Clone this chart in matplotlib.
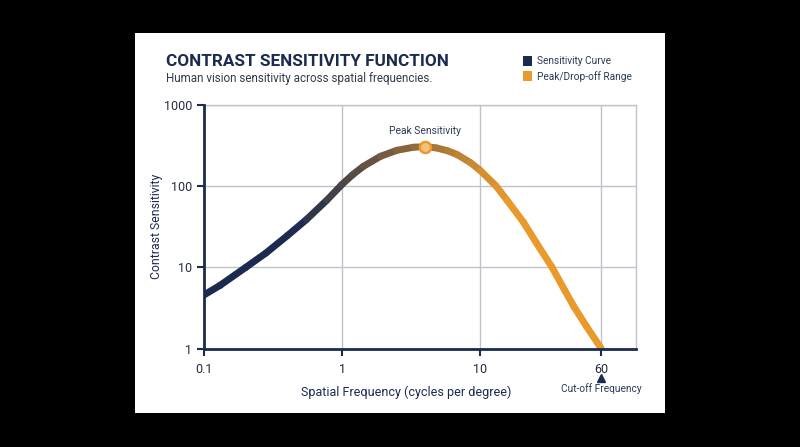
import numpy as np
import matplotlib
matplotlib.use("Agg")
import matplotlib.pyplot as plt
from matplotlib.collections import LineCollection
from matplotlib.patches import Rectangle
from matplotlib.ticker import NullLocator, FixedLocator, FixedFormatter
from matplotlib.colors import to_rgb

plt.rcParams['font.family'] = ['Roboto', 'DejaVu Sans']

# --- data
freq = [0.1, 0.13, 0.2, 0.28, 0.4, 0.55, 0.775, 1.0, 1.2, 1.43, 1.9, 2.5, 3.3, 4.0,
        4.84, 5.8, 6.8, 8.5, 10, 12.7, 15, 19, 23, 29, 35, 40, 48, 60]
sens = [4.6, 6.0, 10, 15, 24.5, 38.6, 67, 105, 139, 175, 232, 275, 300, 305,
        294, 272, 245, 195, 157, 100, 66, 36, 20, 10, 5.2, 3.3, 1.9, 1.0]
peak_freq = 4.0
peak_sens = 305
cutoff_freq = 60
x_ticks = [0.1, 1, 10, 60]
x_tick_labels = ['0.1', '1', '10', '60']
y_ticks = [1, 10, 100, 1000]
y_tick_labels = ['1', '10', '100', '1000']

NAVY = '#1b2b4f'
ORANGE = '#e99a2c'
GRID = '#bfc3cb'
W, H = 800, 447


def fp(x, y):
    # pixel -> figure fraction
    return x / W, 1 - y / H


# the reference stretches the decade above 10 a bit
K = 1.133


def fwd(x):
    l = np.log10(np.clip(x, 1e-12, None))
    return np.where(l > 1, 1 + (l - 1) * K, l)


def inv(y):
    y = np.asarray(y, dtype=float)
    return np.where(y > 1, 10 ** (1 + (y - 1) / K), 10 ** y)


fig = plt.figure(figsize=(8, 4.47), dpi=100)
fig.patch.set_facecolor('black')
fig.patches.append(Rectangle(fp(135, 413), 530 / W, 380 / H, transform=fig.transFigure,
                             facecolor='white', edgecolor='none', zorder=-1))

x0, y0 = fp(204.3, 348.7)
x1, y1 = fp(636, 104.7)
ax = fig.add_axes([x0, y0, x1 - x0, y1 - y0])
ax.set_facecolor('white')
ax.set_xscale('function', functions=(fwd, inv))
ax.set_yscale('log')
ax.set_xlim(0.1, 100)
ax.set_ylim(1, 1000)

# gradient curve navy -> orange
c0 = np.array(to_rgb(NAVY))
c1 = np.array(to_rgb(ORANGE))
pts = np.column_stack([freq, sens])
segs = np.stack([pts[:-1], pts[1:]], axis=1)
mid = np.sqrt(np.array(freq[:-1]) * np.array(freq[1:]))
t = np.clip((np.log10(mid) - np.log10(0.45)) / (np.log10(16) - np.log10(0.45)), 0, 1)
cols = [tuple(c0 + (c1 - c0) * v) for v in t]
lc = LineCollection(segs, colors=cols, linewidths=5, capstyle='round', joinstyle='round', zorder=3)
ax.add_collection(lc)

# peak
ax.plot([peak_freq], [peak_sens], 'o', ms=8, mfc='#f3c27f', mec=ORANGE, mew=1.8, zorder=4)
ax.annotate('Peak Sensitivity', xy=(peak_freq, peak_sens), xytext=(0, 11.5),
            textcoords='offset points', ha='center', va='center', fontsize=7.4, color='#2d3a55')

# axes styling
ax.xaxis.set_major_locator(FixedLocator(x_ticks))
ax.xaxis.set_major_formatter(FixedFormatter(x_tick_labels))
ax.xaxis.set_minor_locator(NullLocator())
ax.yaxis.set_major_locator(FixedLocator(y_ticks))
ax.yaxis.set_major_formatter(FixedFormatter(y_tick_labels))
ax.yaxis.set_minor_locator(NullLocator())
ax.grid(True, color=GRID, lw=1)
ax.set_axisbelow(True)
for s in ['left', 'bottom']:
    ax.spines[s].set_color(NAVY)
    ax.spines[s].set_linewidth(2)
    ax.spines[s].set_zorder(5)
for s in ['top', 'right']:
    ax.spines[s].set_color(GRID)
    ax.spines[s].set_linewidth(1)
ax.tick_params(axis='both', colors=NAVY, width=1.5, length=5, labelsize=9, labelcolor='#222b3d')
ax.tick_params(axis='x', pad=5)

ax.set_ylabel('Contrast Sensitivity', fontsize=8.8, color=NAVY)
ax.yaxis.set_label_coords((163 - 204.3) / 431.7, 0.5)
ax.set_xlabel('Spatial Frequency (cycles per degree)', fontsize=9.0, color=NAVY)
ax.xaxis.set_label_coords((406 - 204.3) / 431.7, (348.7 - 385.7) / 244)

# cut-off annotation
tr = ax.get_xaxis_transform()
ax.plot([cutoff_freq], [(348.7 - 377.7) / 244], '^', ms=5.5, color=NAVY, transform=tr, clip_on=False)
ax.text(cutoff_freq, (348.7 - 389) / 244, 'Cut-off Frequency', transform=tr, ha='center',
        va='center', fontsize=7.3, color='#2d3a55')

# title, subtitle
fig.text(*fp(166, 61.3), 'CONTRAST SENSITIVITY FUNCTION', fontsize=12.3, fontweight='bold',
         color=NAVY, ha='left', va='center')
fig.text(*fp(166, 78.3), 'Human vision sensitivity across spatial frequencies.', fontsize=8.4,
         color='#333a48', ha='left', va='center')

# legend
for yy, c, lab in [(60.7, NAVY, 'Sensitivity Curve'), (76.3, ORANGE, 'Peak/Drop-off Range')]:
    fig.patches.append(Rectangle(fp(522.7, yy + 5), 9.6 / W, 10 / H, transform=fig.transFigure,
                                 facecolor=c, edgecolor='none'))
    fig.text(*fp(537.3, yy), lab, fontsize=7.3, color='#2d3a55', ha='left', va='center')

fig.savefig('out.png', dpi=100, facecolor=fig.get_facecolor())
